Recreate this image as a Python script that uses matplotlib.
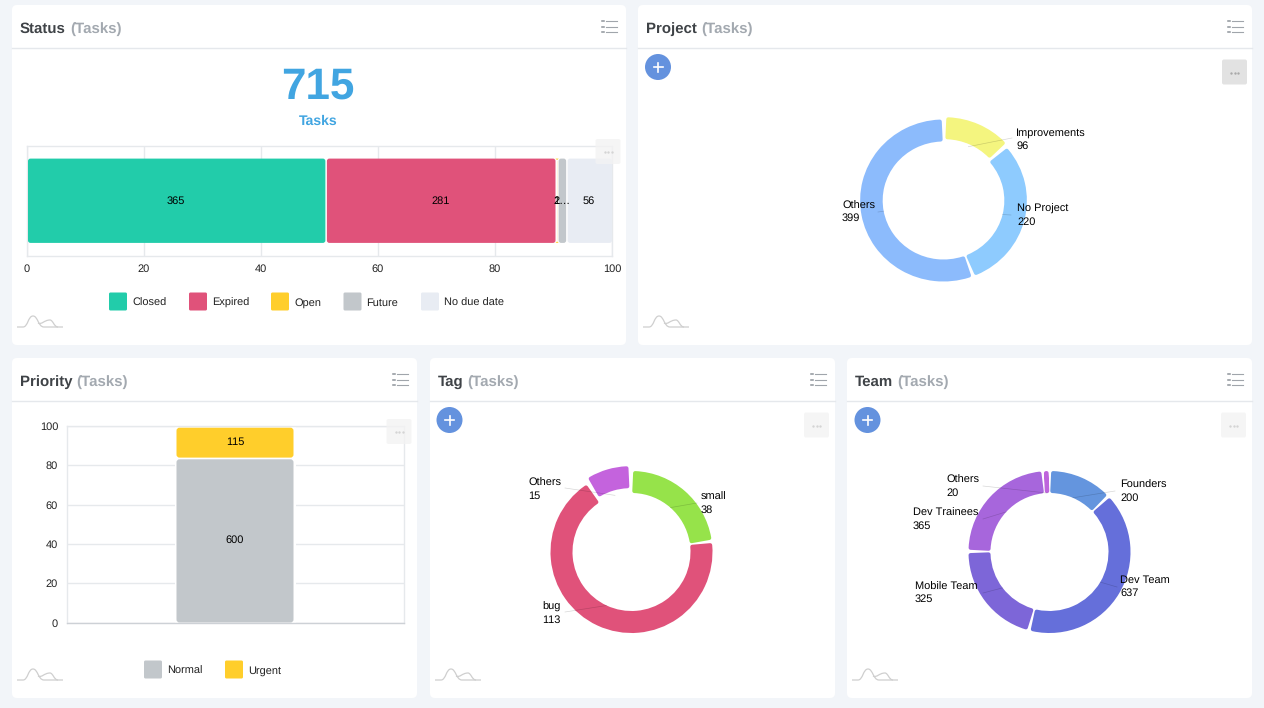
import numpy as np
import matplotlib
matplotlib.use("Agg")
import matplotlib.pyplot as plt
from matplotlib.patches import FancyBboxPatch, Circle
from matplotlib.path import Path
from matplotlib.patches import PathPatch

W, H = 1264, 708
plt.rcParams['font.family'] = ['Liberation Sans', 'DejaVu Sans']
plt.rcParams['text.hinting'] = 'none'
plt.rcParams['text.hinting_factor'] = 1

# Status card
status_names = ['Closed', 'Expired', 'Open', 'Future', 'No due date']
status_counts = [365, 281, 2, 11, 56]
status_labels = ['365', '281', '2', '1…', '56']
status_colors = ['#22CCAA', '#E0527A', '#FFCE2B', '#C2C7CB', '#E8ECF3']
status_ticks = [0, 20, 40, 60, 80, 100]
total_tasks = '715'

# Priority card
priority_names = ['Normal', 'Urgent']
priority_counts = [600, 115]
priority_colors = ['#C2C7CB', '#FFCE2B']
priority_ticks = [0, 20, 40, 60, 80, 100]

# Donut cards
project_names = ['Improvements', 'No Project', 'Others']
project_counts = [96, 220, 399]
project_colors = ['#F4F57F', '#8ECBFE', '#8CBBFC']

tag_names = ['small', 'bug', 'Others']
tag_counts = [38, 113, 15]
tag_colors = ['#96E34A', '#E0527A', '#C463DD']

team_names = ['Founders', 'Dev Team', 'Mobile Team', 'Dev Trainees', 'Others']
team_counts = [200, 637, 325, 365, 20]
team_colors = ['#6495DE', '#656FDA', '#7D66D8', '#A766DC', '#BE65DC']

TEXT = '#222222'
GRID = '#E6E9EC'


def px_axes(x0, y0, x1, y1, **kw):
    # axes placed with picture pixels (y from the top)
    return fig.add_axes([x0 / W, 1 - y1 / H, (x1 - x0) / W, (y1 - y0) / H], **kw)


def rounded_bar(ax, x, y, w, h, r, px_x, px_y, color, zorder=3):
    # r is in pixels, px_x / px_y are pixels per data unit
    style = f'round,pad=0,rounding_size={r / px_x}'
    ax.add_patch(FancyBboxPatch((x, y), w, h, boxstyle=style, mutation_aspect=px_x / px_y,
                                fc=color, ec='none', zorder=zorder))


def card(x0, y0, x1, y1, title):
    bg.add_patch(FancyBboxPatch((x0, y0), x1 - x0, y1 - y0, boxstyle='round,pad=0,rounding_size=5',
                                fc='white', ec='none'))
    bg.plot([x0, x1], [y0 + 42.5, y0 + 42.5], color='#E5E8EC', lw=1)
    t = bg.text(x0 + 8, y0 + 27.5, title, fontsize=11, fontweight='bold', color='#3F4347', va='baseline')
    bbox = t.get_window_extent(fig.canvas.get_renderer())
    bg.text(x0 + 8 + bbox.width + 4, y0 + 27.5, '(Tasks)', fontsize=11, fontweight='bold',
            color='#A3A9B0', va='baseline')
    # list icon
    ix = x1 - 24
    for i in range(3):
        yy = y0 + 16 + i * 5.5
        bg.plot([ix, ix + 1.6], [yy, yy], color='#8E949B', lw=1.1)
        bg.plot([ix + 4, ix + 15], [yy, yy], color='#A0A5AB', lw=0.8)
    # little logo bottom left
    lx, ly = x0 + 5, y1 - 29
    verts = [(0, 11), (6, 11), (11, 11), (11, 0), (16, 0), (21, 0), (21, 11), (27, 11), (46, 11)]
    codes = [Path.MOVETO, Path.LINETO] + [Path.CURVE4] * 6 + [Path.LINETO]
    bg.add_patch(PathPatch(Path([(lx + a, ly + b) for a, b in verts], codes), fc='none', ec='#CFCFCF', lw=0.9))
    verts = [(21, 7), (25, 9), (27, 4), (33, 4), (36, 4), (37, 11), (41, 11)]
    codes = [Path.MOVETO] + [Path.CURVE4] * 6
    bg.add_patch(PathPatch(Path([(lx + a, ly + b) for a, b in verts], codes), fc='none', ec='#CFCFCF', lw=0.9))


def plus_button(x, y):
    top.add_patch(Circle((x, y), 13, fc='#6492DE', ec='none'))
    top.plot([x - 4.5, x + 4.5], [y, y], color='white', lw=1.2)
    top.plot([x, x], [y - 4.5, y + 4.5], color='white', lw=1.2)


def dots_button(x0, y0, color='#F3F3F3', alpha=0.8, dot='#D4D4D4'):
    top.add_patch(FancyBboxPatch((x0, y0), 25, 25, boxstyle='round,pad=0,rounding_size=2',
                                 fc=color, ec='none', alpha=alpha))
    top.plot([x0 + 9, x0 + 12.5, x0 + 16], [y0 + 13] * 3, ls='none', marker='o', ms=0.7, color=dot)


def legend(items, y):
    for name, color, sx, tx in items:
        top.add_patch(FancyBboxPatch((sx, y - 9), 18, 18, boxstyle='round,pad=0,rounding_size=1.5',
                                     fc=color, ec='none'))
        top.text(tx, y + 4, name, fontsize=8, color=TEXT, va='baseline')


def donut(cx, cy, counts, colors, names, labels_at, explode_px=None, r_out=81, r_in=59, xstretch=1.0):
    pad = 12
    half_w = (r_out + pad) * xstretch
    ax = px_axes(cx - half_w, cy - r_out - pad, cx + half_w, cy + r_out + pad, zorder=1)
    # pie takes explode in data units here, and the axes are in pixels
    wedges, _ = ax.pie(counts, colors=colors, radius=r_out, startangle=90, counterclock=False,
                       explode=explode_px, normalize=True)
    ax.set_aspect('auto')
    ax.set_xlim(-r_out - pad, r_out + pad)
    ax.set_ylim(-r_out - pad, r_out + pad)
    ax.axis('off')
    stroke = 4.0
    gap = 2.4
    r_mid = (r_out + r_in) / 2
    for w, col in zip(wedges, colors):
        # pull each slice in a bit and stroke it in its own colour: rounded corners + white gaps
        inset = np.degrees((gap / 2 + stroke / 2) / r_mid)
        span = w.theta2 - w.theta1
        inset = min(inset, span * 0.45)
        t1, t2 = w.theta1 + inset, w.theta2 - inset
        w.set_theta1(t1)
        w.set_theta2(t2)
        w.set_radius(r_out - stroke / 2)
        w.set_width(r_out - r_in - stroke)
        w.set_edgecolor(col)
        w.set_linewidth(stroke * 0.72)
        w.set_joinstyle('round')
    # labels and leader lines
    acc = 0
    total = sum(counts)
    for count, name, (lx, ly, ex, ey) in zip(counts, names, labels_at):
        mid = (acc + count / 2) / total * 2 * np.pi
        acc += count
        sx, sy = cx + r_in * xstretch * np.sin(mid), cy - r_in * np.cos(mid)
        top.plot([sx, ex], [sy, ey], color='black', alpha=0.16, lw=0.5)
        top.text(lx, ly + 4, name, fontsize=8, color='black', va='baseline')
        top.text(lx, ly + 16.5, str(count), fontsize=8, color='black', va='baseline')


fig = plt.figure(figsize=(W / 100, H / 100), dpi=100, facecolor='#F2F5F9')
bg = px_axes(0, 0, W, H, zorder=0)
top = px_axes(0, 0, W, H, zorder=5)
for a in (bg, top):
    a.set_xlim(0, W)
    a.set_ylim(H, 0)
    a.axis('off')
    a.patch.set_alpha(0)

card(12, 5, 626, 345, 'Status')
card(638, 5, 1252, 345, 'Project')
card(12, 358, 417, 698, 'Priority')
card(430, 358, 835, 698, 'Tag')
card(847, 358, 1252, 698, 'Team')

# Status bar
ax = px_axes(26.5, 146, 612, 255.5, zorder=1)
ax.set_xlim(0, 100)
ax.set_ylim(-0.5, 0.5)
px_x, px_y = 585.5 / 100, 109.5
shares = np.array(status_counts) / sum(status_counts) * 100
left = 0
for share, color, lab in zip(shares, status_colors, status_labels):
    inset = 1.5 / px_x
    width = max(share - inset, 0.02)
    rounded_bar(ax, left + inset, -0.385, width, 0.77, 2.5, px_x, px_y, color)
    ax.text(left + share / 2, 0, lab, ha='center', va='center', fontsize=8, color='black', zorder=4)
    left += share
ax.set_xticks(status_ticks)
ax.set_yticks([])
ax.grid(axis='x', color=GRID, lw=1)
ax.set_axisbelow(True)
ax.tick_params(axis='x', length=0, pad=6, labelsize=8, labelcolor=TEXT)
for s in ax.spines.values():
    s.set_color(GRID)
    s.set_linewidth(1)

top.text(318, 87, total_tasks, fontsize=32, fontweight='bold', color='#41A5E1', ha='center', va='center')
top.text(318, 125, 'Tasks', fontsize=10, fontweight='bold', color='#41A5E1', ha='center', va='baseline')
legend(list(zip(status_names, status_colors, [109, 189, 271, 343.5, 421], [132, 212, 294, 366, 444])), 301.5)
dots_button(595.5, 139)

# Priority stacked bar
ax = px_axes(66.5, 426, 403.5, 622.5, zorder=1)
ax.set_xlim(-0.5, 0.5)
ax.set_ylim(0, 100)
px_x, px_y = 337 / 1, 196.5 / 100
bar_w = 117 / 337
cx = 0
shares = np.array(priority_counts) / sum(priority_counts) * 100
ax.add_patch(plt.Rectangle((cx - bar_w / 2 - 2 / px_x, 0), bar_w + 4 / px_x, 100, fc='white', ec='none', zorder=2))
bottom = 0
for share, color, count in zip(shares, priority_colors, priority_counts):
    top_gap = 1.7 / px_y
    rounded_bar(ax, cx - bar_w / 2, bottom, bar_w, share - top_gap, 3, px_x, px_y, color)
    ax.text(cx, bottom + share / 2, str(count), ha='center', va='center', fontsize=8, color='black', zorder=4)
    bottom += share
ax.set_yticks(priority_ticks)
ax.set_xticks([])
ax.grid(axis='y', color=GRID, lw=1)
ax.set_axisbelow(True)
ax.tick_params(axis='y', length=0, pad=6, labelsize=8, labelcolor=TEXT)
for s in ax.spines.values():
    s.set_color(GRID)
    s.set_linewidth(1)
ax.spines['bottom'].set_color('#CDD1D6')
legend(list(zip(priority_names, priority_colors, [144, 225], [167, 248])), 669.5)
dots_button(386.5, 419)

# Donuts, label spots are (text x, first line y, leader end x, leader end y)
donut(943.5, 200.5, project_counts, project_colors, project_names,
      [(1016, 132, 1012, 138), (1017, 208, 1011, 215), (842, 204.5, 878, 212)],
      explode_px=[2.5, 0, 0], xstretch=1.03)
donut(631.5, 552, tag_counts, tag_colors, tag_names,
      [(701, 496, 697, 503), (542, 606, 565, 612), (528, 482, 565, 488)], explode_px=[0, 0, 5])
donut(1049.5, 552, team_counts, team_colors, team_names,
      [(1120, 484, 1115, 491), (1120, 579, 1117, 587), (915, 585.5, 983, 593), (913, 512, 983, 519), (946, 479, 983, 486)])

plus_button(658, 67)
plus_button(449.5, 420)
plus_button(867.5, 420)
dots_button(1222, 59.5, color='#E2E2E2', alpha=1, dot='#A8A8A8')
dots_button(804, 412.5)
dots_button(1221, 412.5)

fig.savefig('out.png', dpi=100, facecolor=fig.get_facecolor())
